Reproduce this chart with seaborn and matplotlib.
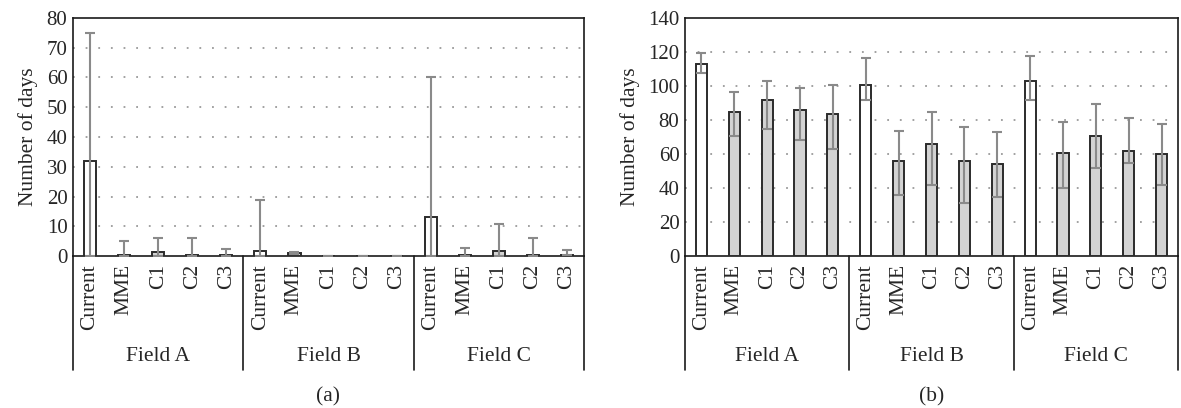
"""
Number of days per field and method, two panels (a) and (b)
"""

import numpy as np
import pandas as pd
import matplotlib
matplotlib.use('Agg')
import matplotlib.pyplot as plt
import seaborn as sns

sns.set_theme(style='white')
plt.rcParams['font.family'] = ['Liberation Serif', 'DejaVu Serif']
FS = 15.5

# Data
fields = ['Field A', 'Field B', 'Field C']
methods = ['Current', 'MME', 'C1', 'C2', 'C3']

# panel (a)
a_mean = [32, 0.5, 1.2, 0.5, 0.5,
          1.7, 0.9, 0, 0, 0,
          13, 0.5, 1.7, 0.5, 0.5]
a_low = [0, 0, 0, 0, 0,
         0, 0.6, 0, 0, 0,
         0, 0, 0, 0, 0.3]
a_high = [75, 5, 6.2, 6.2, 2.2,
          18.7, 1.2, 0, 0, 0,
          60, 2.7, 10.9, 6.2, 2.1]

# panel (b)
b_mean = [112.7, 84.8, 92, 86, 83.8,
          100.6, 55.9, 65.9, 55.9, 54,
          102.7, 60.8, 70.8, 61.8, 59.8]
b_low = [107.6, 70.8, 74.9, 68, 62.8,
         91.8, 35.9, 41.9, 31, 34.9,
         91.8, 40, 51.9, 55, 41.9]
b_high = [119.5, 96.7, 102.7, 98.6, 100.6,
          116.4, 73.7, 84.8, 75.8, 72.7,
          117.5, 78.8, 89.7, 80.9, 77.8]


def make_df(mean, low, high):
    rows = []
    i = 0
    for f in fields:
        for m in methods:
            rows.append({'slot': f + ' ' + m, 'field': f, 'method': m,
                         'days': mean[i], 'low': low[i], 'high': high[i]})
            i += 1
    return pd.DataFrame(rows)


def draw_panel(ax, df, ymax, ystep, width, letter):
    colors = {s: ('white' if m == 'Current' else '#d3d3d3')
              for s, m in zip(df['slot'], df['method'])}
    sns.barplot(data=df, x='slot', y='days', hue='slot', palette=colors,
                legend=False, width=width, edgecolor='#2b2b2b', linewidth=1.4,
                ax=ax, zorder=3)
    x = np.arange(len(df))
    ax.errorbar(x, df['days'],
                yerr=[df['days'] - df['low'], df['high'] - df['days']],
                fmt='none', ecolor='#8a8a8a', elinewidth=1.5, capsize=3.6,
                capthick=1.5, zorder=4)

    ax.set_xlim(-0.5, len(df) - 0.5)
    ax.set_ylim(0, ymax)
    ticks = np.arange(0, ymax + 1, ystep)
    ax.set_yticks(ticks)
    for t in ticks[1:-1]:
        ax.axhline(t, color='#9a9a9a', linewidth=1.3, linestyle=(0, (1, 6)),
                   zorder=1)

    ax.set_xticks(x)
    ax.set_xticklabels(df['method'], rotation=90, va='top', ha='center',
                       fontsize=FS)
    ax.tick_params(axis='x', length=0, pad=6)
    ax.tick_params(axis='y', length=0, pad=4, labelsize=FS - 0.5)
    ax.set_xlabel('')
    ax.set_ylabel('Number of days', labelpad=6, fontsize=FS)

    for sp in ax.spines.values():
        sp.set_color('#1a1a1a')
        sp.set_linewidth(1.2)

    # group brackets below the axis
    for b in [-0.5, 4.5, 9.5, 14.5]:
        ax.plot([b, b], [0, -0.479], transform=ax.get_xaxis_transform(),
                color='#1a1a1a', linewidth=1.2, clip_on=False)
    for k, f in enumerate(fields):
        ax.text(k * 5 + 2, -0.424, f, transform=ax.get_xaxis_transform(),
                ha='center', va='center', fontsize=FS)

    pos = ax.get_position()
    ax.figure.text((pos.x0 + pos.x1) / 2, 0.027, letter, ha='center',
                   va='center', fontsize=FS)


fig = plt.figure(figsize=(11.81, 4.08), dpi=100)
ax1 = fig.add_axes([0.0618, 0.3725, 0.4327, 0.5834])
ax2 = fig.add_axes([0.58, 0.3725, 0.4175, 0.5834])

draw_panel(ax1, make_df(a_mean, a_low, a_high), 80, 10, 0.36, '(a)')
draw_panel(ax2, make_df(b_mean, b_low, b_high), 140, 20, 0.34, '(b)')

fig.savefig('out.png', dpi=100)
print("Saved out.png")
